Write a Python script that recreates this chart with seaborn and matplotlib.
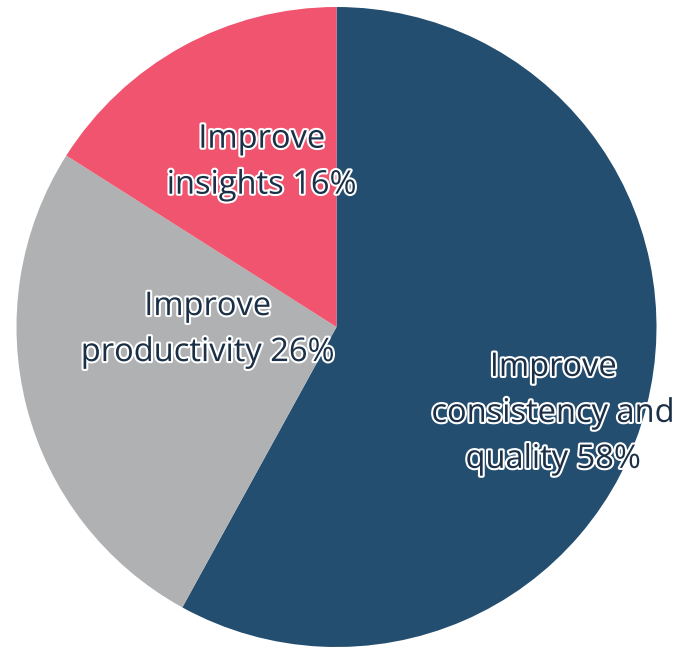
import matplotlib
matplotlib.use("Agg")
import matplotlib.pyplot as plt
import matplotlib.patheffects as pe
import seaborn as sns

sns.set_theme(style="white")
plt.rcParams['font.family'] = ['Open Sans', 'DejaVu Sans']

categories = ["Improve\nconsistency and\nquality", "Improve\nproductivity", "Improve\ninsights"]
values = [58, 26, 16]
colors = ["#234e70", "#b0b1b3", "#f0546f"]
label_pos = [(0.677, -0.27), (-0.403, -0.008), (-0.234, 0.515)]

fig = plt.figure(figsize=(6.76, 6.49), dpi=100)
ax = fig.add_axes([16.5/676, 2/649, 640/676, 640/649])
wedges, _ = ax.pie(values, colors=colors, startangle=90, counterclock=False,
                   radius=1.0, wedgeprops=dict(linewidth=0))
for cat, v, (x, y) in zip(categories, values, label_pos):
    ax.text(x, y, f"{cat} {v}%", ha="center", va="center", multialignment="center",
            fontsize=23.5, color="#1b3047", linespacing=1.52,
            path_effects=[pe.withStroke(linewidth=3, foreground="white")])
ax.set_xlim(-1, 1)
ax.set_ylim(-1, 1)
ax.set_aspect("equal")
ax.axis("off")
fig.savefig("out.png", dpi=100)
